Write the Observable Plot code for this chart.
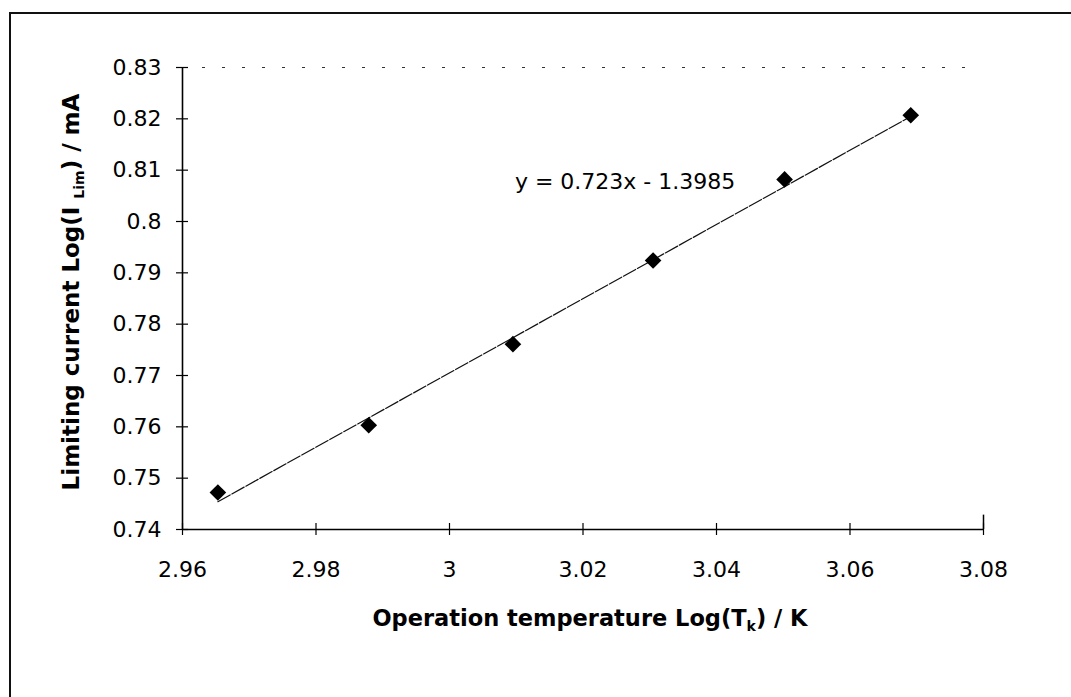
<!DOCTYPE html>
<html><head><meta charset="utf-8">
<script src="https://cdn.jsdelivr.net/npm/d3@7"></script>
<script src="https://cdn.jsdelivr.net/npm/@observablehq/plot@0.6"></script>
<style>
body{margin:0;background:#fff;overflow:hidden}
#wrap{position:relative;width:1071px;height:697px;overflow:hidden}
#frame{position:absolute;left:9px;top:12px;width:1100px;height:700px;border-left:2px solid #111;border-top:2px solid #111;pointer-events:none}
</style>
</head><body><div id="wrap"><div id="frame"></div></div>
<script>
// Data
const logT = [2.9653, 2.9879, 3.0095, 3.0305, 3.0502, 3.0691];
const logI = [0.7472, 0.7603, 0.7761, 0.7924, 0.8082, 0.8207];
const slope = 0.723;
const intercept = -1.3985;
const equationLabel = ["y = 0.723x - 1.3985"];
const xTicks = [2.96, 2.98, 3.00, 3.02, 3.04, 3.06, 3.08];
const xTickLabels = ["2.96", "2.98", "3", "3.02", "3.04", "3.06", "3.08"];
const yTicks = [0.74, 0.75, 0.76, 0.77, 0.78, 0.79, 0.80, 0.81, 0.82, 0.83];
const yTickLabels = ["0.74", "0.75", "0.76", "0.77", "0.78", "0.79", "0.8", "0.81", "0.82", "0.83"];

const points = logT.map((x, i) => ({x, y: logI[i]}));
const xExt = d3.extent(logT);
const trend = xExt.map(x => ({x, y: slope * x + intercept}));

// half-length of crossing tick marks, in data units (~6px)
const xHalf = 0.12 / 800 * 6;
const yHalf = 0.09 / 462 * 6;

const chart = Plot.plot({
  width: 1071, height: 697,
  marginLeft: 182, marginRight: 88, marginTop: 67, marginBottom: 168,
  style: {fontFamily: "DejaVu Sans", fontSize: "22px", color: "#000", background: "transparent", overflow: "visible"},
  x: {domain: [2.96, 3.08], label: null},
  y: {domain: [0.74, 0.83], label: null},
  marks: [
    Plot.ruleY([0.83], {x1: 2.96, x2: 3.078, stroke: "#333", strokeDasharray: "3,17"}),
    Plot.ruleX([3.08], {y1: 0.74, y2: 0.7428, stroke: "#000", strokeWidth: 1.5}),
    Plot.ruleX([2.96], {stroke: "#000", strokeWidth: 1.6}),
    Plot.ruleY([0.74], {stroke: "#000", strokeWidth: 1.6}),
    Plot.ruleY(yTicks, {x1: 2.96 - xHalf, x2: 2.96 + xHalf, stroke: "#000", strokeWidth: 1.2}),
    Plot.ruleX(xTicks, {y1: 0.74 - yHalf, y2: 0.74 + yHalf, stroke: "#000", strokeWidth: 1.2}),
    Plot.axisY(yTicks, {tickSize: 0, tickPadding: 21, tickFormat: d => yTickLabels[yTicks.indexOf(d)], label: null}),
    Plot.axisX(xTicks, {tickSize: 0, tickPadding: 32, tickFormat: d => xTickLabels[xTicks.indexOf(d)], label: null}),
    Plot.line(trend, {x: "x", y: "y", stroke: "#111", strokeWidth: 1.2, strokeDasharray: "14,2"}),
    Plot.dot(points, {x: "x", y: "y", symbol: "diamond2", r: 7.5, fill: "#000", stroke: "none"}),
    Plot.text(equationLabel, {x: () => 3.0098, y: () => 0.8078, text: d => d, textAnchor: "start", fontSize: 22, fill: "#000"})
  ]
});

const svg = d3.select(chart);
svg.append("text")
  .attr("x", 590).attr("y", 626)
  .attr("text-anchor", "middle")
  .attr("font-family", "DejaVu Sans").attr("font-weight", "bold").attr("font-size", 22.5)
  .call(t => {
    t.append("tspan").text("Operation temperature Log(T");
    t.append("tspan").attr("font-size", 14).attr("dy", 5).text("k");
    t.append("tspan").attr("dy", -5).text(") / K");
  });
svg.append("text")
  .attr("transform", "translate(79,292) rotate(-90)")
  .attr("text-anchor", "middle")
  .attr("font-family", "DejaVu Sans").attr("font-weight", "bold").attr("font-size", 23)
  .call(t => {
    t.append("tspan").text("Limiting current Log(I ");
    t.append("tspan").attr("font-size", 14).attr("dy", 5).text("Lim");
    t.append("tspan").attr("dy", -5).text(") / mA");
  });

document.getElementById("wrap").prepend(chart);
</script>
</body></html>
